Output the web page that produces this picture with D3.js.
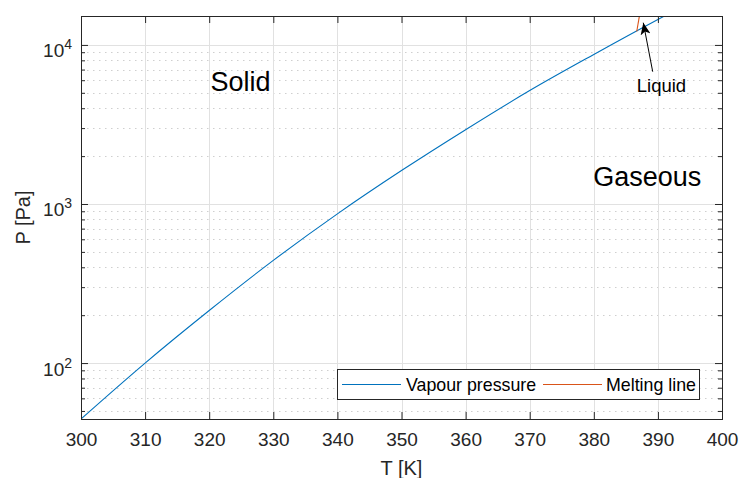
<!DOCTYPE html>
<html>
<head>
<meta charset="utf-8">
<script src="https://cdn.jsdelivr.net/npm/d3@7"></script>
<style>
  body { margin: 0; background: #fff; }
  text { font-family: "Liberation Sans", Arial, sans-serif; }
</style>
</head>
<body>
<div id="chart"></div>
<script>
// vapour pressure curve
const vapourT = [300, 310, 320, 330, 340, 350, 360, 370, 380, 390, 392];
const vapourP = [44.5, 100, 214, 442, 867, 1622, 2931, 5164, 8710, 14450, 15950];
// melting line (starts at the triple point)
const meltT = [386.7, 387.15];
const meltP = [12150, 15500];

const xTicks = [300, 310, 320, 330, 340, 350, 360, 370, 380, 390, 400];
const yMajor = [100, 1000, 10000];
const yMinor = [50, 60, 70, 80, 90, 200, 300, 400, 500, 600, 700, 800, 900,
  2000, 3000, 4000, 5000, 6000, 7000, 8000, 9000];
const seriesNames = ["Vapour pressure", "Melting line"];
const colors = ["#0072bd", "#d95319"];

var W = 740, H = 478;
var margin = { top: 16, right: 18, bottom: 59, left: 81 };
var width = W - margin.left - margin.right;
var height = H - margin.top - margin.bottom;

var svg = d3.select("#chart").append("svg")
  .attr("width", W).attr("height", H);
var g = svg.append("g")
  .attr("transform", "translate(" + margin.left + "," + margin.top + ")");

var x = d3.scaleLinear().domain([300, 400]).range([0, width]);
var y = d3.scaleLog().domain([44.5, 15200]).range([height, 0]);

// grid
g.append("g").selectAll("line").data(yMinor).join("line")
  .attr("x1", 0).attr("x2", width)
  .attr("y1", d => Math.round(y(d)) + 0.5).attr("y2", d => Math.round(y(d)) + 0.5)
  .attr("stroke", "#cfcfcf").attr("stroke-dasharray", "1.5,4.5");
g.append("g").selectAll("line").data(xTicks.slice(1, -1)).join("line")
  .attr("x1", d => Math.round(x(d)) + 0.5).attr("x2", d => Math.round(x(d)) + 0.5)
  .attr("y1", 0).attr("y2", height)
  .attr("stroke", "#e1e1e1");
g.append("g").selectAll("line").data(yMajor).join("line")
  .attr("x1", 0).attr("x2", width)
  .attr("y1", d => Math.round(y(d)) + 0.5).attr("y2", d => Math.round(y(d)) + 0.5)
  .attr("stroke", "#e1e1e1");

// lines
g.append("clipPath").attr("id", "clip")
  .append("rect").attr("width", width).attr("height", height);

var line = d3.line()
  .x(d => x(d[0]))
  .y(d => y(d[1]))
  .curve(d3.curveMonotoneX);

g.append("path")
  .datum(vapourT.map((t, i) => [t, vapourP[i]]))
  .attr("clip-path", "url(#clip)")
  .attr("fill", "none").attr("stroke", colors[0]).attr("stroke-width", 1.1)
  .attr("d", line);

g.append("path")
  .datum(meltT.map((t, i) => [t, meltP[i]]))
  .attr("clip-path", "url(#clip)")
  .attr("fill", "none").attr("stroke", colors[1]).attr("stroke-width", 1.1)
  .attr("d", d3.line().x(d => x(d[0])).y(d => y(d[1])));

// axes (ticks point inward like matlab)
var axisColor = "#262626";
function styleAxis(sel) {
  sel.select(".domain").remove();
  sel.selectAll("line").attr("stroke", axisColor);
  sel.selectAll("text").attr("fill", axisColor).style("font-size", "19px");
}

g.append("g")
  .attr("transform", "translate(0," + height + ")")
  .call(d3.axisBottom(x).tickValues(xTicks).tickSizeInner(-7).tickSizeOuter(0).tickPadding(14))
  .call(styleAxis);
g.append("g")
  .call(d3.axisTop(x).tickValues(xTicks).tickSizeInner(-7).tickSizeOuter(0).tickFormat(""))
  .call(styleAxis);

var yAxis = g.append("g")
  .call(d3.axisLeft(y).tickValues(yMajor).tickSizeInner(-7).tickSizeOuter(0).tickPadding(9))
  .call(styleAxis);
yAxis.selectAll(".tick text").each(function (d) {
  var t = d3.select(this).text(null).attr("dy", null).attr("y", 12);
  t.append("tspan").text("10");
  t.append("tspan").attr("dy", -8).style("font-size", "14px").text(Math.round(Math.log10(d)));
});
g.append("g")
  .call(d3.axisLeft(y).tickValues(yMinor).tickSizeInner(-4).tickSizeOuter(0).tickFormat(""))
  .call(styleAxis);
g.append("g")
  .attr("transform", "translate(" + width + ",0)")
  .call(d3.axisRight(y).tickValues(yMajor).tickSizeInner(-7).tickSizeOuter(0).tickFormat(""))
  .call(styleAxis);
g.append("g")
  .attr("transform", "translate(" + width + ",0)")
  .call(d3.axisRight(y).tickValues(yMinor).tickSizeInner(-4).tickSizeOuter(0).tickFormat(""))
  .call(styleAxis);

// box
g.append("rect")
  .attr("x", 0.5).attr("y", 0.5).attr("width", width).attr("height", height)
  .attr("fill", "none").attr("stroke", axisColor).attr("stroke-width", 1);

// axis labels
g.append("text")
  .attr("x", width / 2).attr("y", height + 56)
  .attr("text-anchor", "middle").attr("fill", axisColor)
  .style("font-size", "20px").text("T [K]");
g.append("text")
  .attr("transform", "translate(" + (-51) + "," + (height / 2) + ") rotate(-90)")
  .attr("text-anchor", "middle").attr("fill", axisColor)
  .style("font-size", "20px").text("P [Pa]");

// region labels
g.append("text").attr("x", x(320.2)).attr("y", 75)
  .style("font-size", "27px").text("Solid");
g.append("text").attr("x", x(379.9)).attr("y", 170)
  .style("font-size", "27px").text("Gaseous");
g.append("text").attr("x", x(386.7)).attr("y", 76)
  .style("font-size", "18.5px").text("Liquid");

// arrow to the liquid region
svg.append("defs").append("marker")
  .attr("id", "head").attr("viewBox", "0 0 12 10")
  .attr("refX", 12).attr("refY", 5)
  .attr("markerWidth", 12).attr("markerHeight", 10)
  .attr("markerUnits", "userSpaceOnUse")
  .attr("orient", "auto")
  .append("path").attr("d", "M0,0 L12,5 L0,10 L3,5 Z").attr("fill", "#000");
g.append("line")
  .attr("x1", x(389.19)).attr("y1", 55.7)
  .attr("x2", x(387.72)).attr("y2", 6.7)
  .attr("stroke", "#000").attr("stroke-width", 1)
  .attr("marker-end", "url(#head)");

// legend
var leg = g.append("g").attr("transform", "translate(256,353)");
leg.append("rect")
  .attr("x", 0.5).attr("y", 0.5).attr("width", 362).attr("height", 30)
  .attr("fill", "#fff").attr("stroke", axisColor);
var legX = [[5, 64, 69], [206, 265, 269]];
seriesNames.forEach(function (name, i) {
  leg.append("line")
    .attr("x1", legX[i][0]).attr("x2", legX[i][1])
    .attr("y1", 15.5).attr("y2", 15.5)
    .attr("stroke", colors[i]).attr("stroke-width", 1.1);
  leg.append("text")
    .attr("x", legX[i][2]).attr("y", 22)
    .attr("fill", "#000")
    .style("font-size", "17.8px").text(name);
});
</script>
</body>
</html>
